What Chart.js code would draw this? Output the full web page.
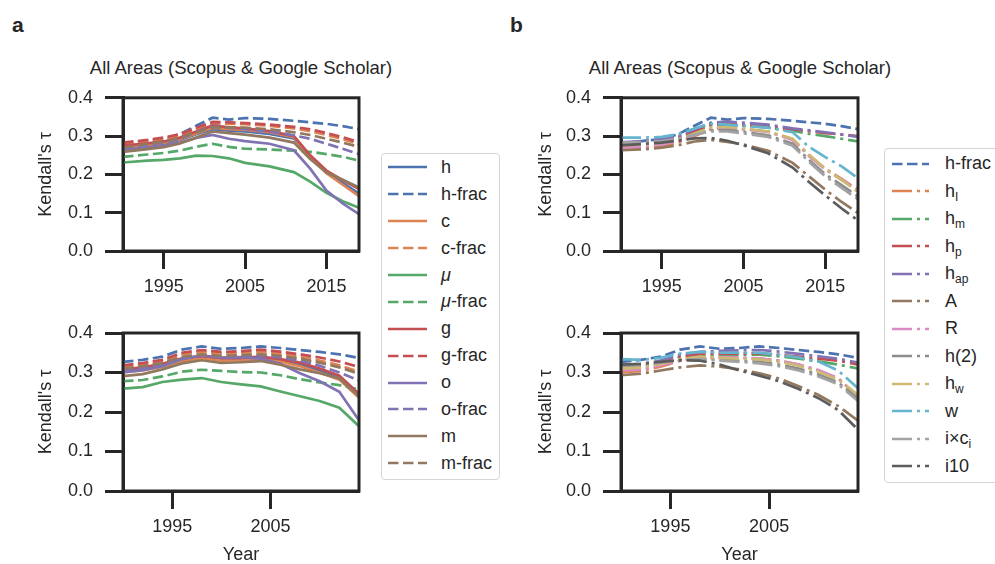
<!DOCTYPE html>
<html>
<head>
<meta charset="utf-8">
<script src="https://cdn.jsdelivr.net/npm/chart.js@4"></script>
<style>
  body { margin: 0; width: 995px; height: 564px; overflow: hidden; background: #fff; position: relative;
         font-family: "Liberation Sans", Arial, sans-serif; color: #262626; }
  .abs { position: absolute; }
  .letter { font-weight: bold; font-size: 21px; line-height: 1; }
  .title { font-size: 18.5px; line-height: 1; white-space: nowrap; transform: translate(-50%, -50%); }
  .legend { border: 1.5px solid #d6d6d6; border-radius: 4px; background: #fff; box-sizing: border-box; }
  .row { display: flex; align-items: center; font-size: 18px; white-space: nowrap; }
  .row svg { flex: none; }
  .row sub { font-size: 12px; line-height: 0; vertical-align: -4px; }
</style>
</head>
<body>
<div class="abs letter" style="left:12px;top:14px">a</div>
<div class="abs letter" style="left:510px;top:14px">b</div>
<div class="abs title" style="left:241px;top:68px">All Areas (Scopus &amp; Google Scholar)</div>
<div class="abs title" style="left:740px;top:68px">All Areas (Scopus &amp; Google Scholar)</div>

<canvas id="tl" class="abs" width="375" height="230" style="left:0;top:75px"></canvas>
<canvas id="bl" class="abs" width="375" height="256" style="left:0;top:310px"></canvas>
<canvas id="tr" class="abs" width="375" height="230" style="left:500px;top:75px"></canvas>
<canvas id="br" class="abs" width="375" height="256" style="left:500px;top:310px"></canvas>

<div id="legA" class="abs legend" style="left:381px;top:153px;width:119px;height:327px"></div>
<div id="legB" class="abs legend" style="left:884px;top:148px;width:130px;height:335px"></div>

<script>
// years sampled from the curves
const yearsTop = [1990, 1993, 1995, 1997, 1999, 2001, 2003, 2005, 2008, 2011, 2013, 2015, 2017, 2019]
const yearsBottom = [1990, 1992, 1994, 1996, 1998, 2000, 2002, 2004, 2006, 2008, 2010, 2012, 2014]
const tickYearsTop = [1995, 2005, 2015]
const tickYearsBottom = [1995, 2005]
const yTicks = [0, 0.1, 0.2, 0.3, 0.4]

// panel a, top
const tlH      = [0.268, 0.275, 0.280, 0.290, 0.305, 0.318, 0.314, 0.312, 0.306, 0.294, 0.245, 0.205, 0.178, 0.150]
const tlHFrac  = [0.280, 0.288, 0.292, 0.305, 0.327, 0.348, 0.343, 0.347, 0.345, 0.340, 0.336, 0.332, 0.326, 0.318]
const tlC      = [0.270, 0.277, 0.282, 0.292, 0.307, 0.322, 0.318, 0.316, 0.310, 0.297, 0.245, 0.203, 0.173, 0.143]
const tlCFrac  = [0.278, 0.285, 0.290, 0.300, 0.318, 0.333, 0.332, 0.331, 0.327, 0.320, 0.313, 0.303, 0.292, 0.279]
const tlMu     = [0.231, 0.236, 0.238, 0.242, 0.249, 0.248, 0.242, 0.230, 0.221, 0.206, 0.181, 0.152, 0.130, 0.113]
const tlMuFrac = [0.246, 0.252, 0.256, 0.262, 0.272, 0.280, 0.272, 0.267, 0.265, 0.262, 0.259, 0.253, 0.246, 0.236]
const tlG      = [0.275, 0.281, 0.286, 0.296, 0.312, 0.328, 0.323, 0.320, 0.313, 0.300, 0.250, 0.210, 0.185, 0.162]
const tlGFrac  = [0.283, 0.290, 0.296, 0.305, 0.322, 0.337, 0.336, 0.334, 0.330, 0.324, 0.318, 0.308, 0.297, 0.284]
const tlO      = [0.263, 0.270, 0.275, 0.283, 0.295, 0.303, 0.293, 0.287, 0.280, 0.263, 0.215, 0.158, 0.124, 0.096]
const tlOFrac  = [0.268, 0.278, 0.283, 0.293, 0.310, 0.325, 0.322, 0.318, 0.312, 0.302, 0.293, 0.280, 0.267, 0.253]
const tlM      = [0.259, 0.266, 0.271, 0.281, 0.296, 0.312, 0.308, 0.304, 0.296, 0.283, 0.240, 0.205, 0.186, 0.166]
const tlMFrac  = [0.270, 0.280, 0.285, 0.295, 0.310, 0.323, 0.323, 0.322, 0.318, 0.310, 0.303, 0.293, 0.283, 0.272]

// panel a, bottom
const blH      = [0.303, 0.308, 0.318, 0.332, 0.338, 0.333, 0.333, 0.336, 0.330, 0.320, 0.305, 0.285, 0.245]
const blHFrac  = [0.327, 0.332, 0.340, 0.358, 0.366, 0.360, 0.362, 0.366, 0.362, 0.357, 0.352, 0.346, 0.337]
const blC      = [0.300, 0.305, 0.315, 0.329, 0.336, 0.330, 0.331, 0.334, 0.328, 0.316, 0.300, 0.282, 0.236]
const blCFrac  = [0.314, 0.320, 0.328, 0.346, 0.352, 0.348, 0.350, 0.352, 0.348, 0.340, 0.330, 0.318, 0.302]
const blMu     = [0.259, 0.263, 0.276, 0.282, 0.286, 0.276, 0.270, 0.265, 0.252, 0.240, 0.228, 0.211, 0.164]
const blMuFrac = [0.278, 0.281, 0.290, 0.302, 0.307, 0.304, 0.301, 0.300, 0.293, 0.283, 0.275, 0.268, 0.257]
const blG      = [0.308, 0.313, 0.322, 0.336, 0.342, 0.337, 0.337, 0.340, 0.334, 0.325, 0.310, 0.292, 0.246]
const blGFrac  = [0.318, 0.324, 0.332, 0.350, 0.357, 0.352, 0.354, 0.358, 0.353, 0.346, 0.338, 0.328, 0.314]
const blO      = [0.301, 0.306, 0.316, 0.334, 0.343, 0.338, 0.339, 0.335, 0.322, 0.298, 0.278, 0.251, 0.179]
const blOFrac  = [0.305, 0.311, 0.320, 0.336, 0.343, 0.338, 0.340, 0.343, 0.338, 0.330, 0.317, 0.300, 0.280]
const blM      = [0.291, 0.296, 0.308, 0.323, 0.331, 0.324, 0.326, 0.329, 0.320, 0.308, 0.298, 0.285, 0.240]
const blMFrac  = [0.310, 0.316, 0.324, 0.340, 0.346, 0.342, 0.344, 0.346, 0.342, 0.335, 0.325, 0.313, 0.297]

// panel b, top (h-frac is the same series as panel a)
const trHI  = [0.266, 0.270, 0.274, 0.283, 0.300, 0.318, 0.322, 0.318, 0.312, 0.292, 0.250, 0.215, 0.188, 0.160]
const trHM  = [0.278, 0.282, 0.287, 0.295, 0.312, 0.328, 0.330, 0.327, 0.322, 0.314, 0.306, 0.300, 0.293, 0.286]
const trHP  = [0.280, 0.284, 0.288, 0.297, 0.314, 0.330, 0.333, 0.330, 0.325, 0.318, 0.313, 0.308, 0.304, 0.300]
const trHAp = [0.284, 0.288, 0.292, 0.300, 0.318, 0.335, 0.338, 0.335, 0.330, 0.320, 0.315, 0.310, 0.304, 0.298]
const trA   = [0.263, 0.266, 0.270, 0.276, 0.286, 0.290, 0.285, 0.278, 0.262, 0.230, 0.195, 0.160, 0.128, 0.099]
const trR   = [0.270, 0.274, 0.278, 0.287, 0.303, 0.320, 0.322, 0.318, 0.311, 0.290, 0.248, 0.213, 0.186, 0.158]
const trH2  = [0.280, 0.282, 0.285, 0.292, 0.305, 0.315, 0.316, 0.311, 0.302, 0.280, 0.238, 0.200, 0.172, 0.142]
const trHW  = [0.275, 0.279, 0.283, 0.291, 0.307, 0.322, 0.324, 0.320, 0.312, 0.293, 0.252, 0.215, 0.185, 0.154]
const trW   = [0.296, 0.296, 0.298, 0.305, 0.320, 0.332, 0.330, 0.327, 0.322, 0.310, 0.272, 0.245, 0.221, 0.190]
const trIC  = [0.283, 0.285, 0.287, 0.293, 0.304, 0.312, 0.312, 0.307, 0.298, 0.275, 0.233, 0.195, 0.165, 0.135]
const trI10 = [0.276, 0.280, 0.283, 0.288, 0.294, 0.295, 0.288, 0.276, 0.255, 0.218, 0.180, 0.145, 0.111, 0.080]

// panel b, bottom
const brHI  = [0.300, 0.304, 0.315, 0.330, 0.337, 0.337, 0.337, 0.335, 0.330, 0.320, 0.305, 0.285, 0.238]
const brHM  = [0.310, 0.314, 0.322, 0.338, 0.344, 0.345, 0.345, 0.345, 0.341, 0.335, 0.328, 0.320, 0.310]
const brHP  = [0.312, 0.316, 0.324, 0.340, 0.347, 0.348, 0.348, 0.349, 0.345, 0.340, 0.335, 0.330, 0.320]
const brHAp = [0.319, 0.322, 0.330, 0.345, 0.352, 0.355, 0.356, 0.357, 0.353, 0.347, 0.341, 0.335, 0.325]
const brA   = [0.293, 0.297, 0.305, 0.313, 0.318, 0.315, 0.308, 0.298, 0.285, 0.265, 0.243, 0.215, 0.178]
const brR   = [0.305, 0.308, 0.318, 0.332, 0.339, 0.339, 0.338, 0.336, 0.330, 0.320, 0.306, 0.285, 0.240]
const brH2  = [0.315, 0.318, 0.324, 0.333, 0.336, 0.332, 0.330, 0.327, 0.320, 0.310, 0.295, 0.275, 0.233]
const brHW  = [0.310, 0.313, 0.322, 0.334, 0.340, 0.337, 0.335, 0.333, 0.327, 0.317, 0.302, 0.282, 0.243]
const brW   = [0.334, 0.332, 0.337, 0.348, 0.352, 0.350, 0.350, 0.350, 0.345, 0.338, 0.328, 0.305, 0.260]
const brIC  = [0.318, 0.320, 0.325, 0.332, 0.334, 0.330, 0.327, 0.323, 0.316, 0.305, 0.290, 0.270, 0.228]
const brI10 = [0.320, 0.322, 0.327, 0.331, 0.330, 0.320, 0.305, 0.292, 0.278, 0.258, 0.235, 0.205, 0.155]

const labelsA = ['h', 'h-frac', 'c', 'c-frac', 'μ', 'μ-frac', 'g', 'g-frac', 'o', 'o-frac', 'm', 'm-frac']
const legendA = ['h', 'h-frac', 'c', 'c-frac', '<i>μ</i>', '<i>μ</i>-frac', 'g', 'g-frac', 'o', 'o-frac', 'm', 'm-frac']
const labelsB = ['h-frac', 'hI', 'hm', 'hp', 'hap', 'A', 'R', 'h(2)', 'hw', 'w', 'i×ci', 'i10']
const legendB = ['h-frac', 'h<sub>I</sub>', 'h<sub>m</sub>', 'h<sub>p</sub>', 'h<sub>ap</sub>', 'A', 'R', 'h(2)',
                 'h<sub>w</sub>', 'w', 'i×c<sub>i</sub>', 'i10']

const ink = '#262626'
const solid = []
const dashed = [10.5, 4.5]
const dashdot = [20, 5, 3, 5]

const colorsA = ['#4C72B0', '#4C72B0', '#DD8452', '#DD8452', '#55A868', '#55A868',
                 '#C44E52', '#C44E52', '#8172B3', '#8172B3', '#937860', '#937860']
const dashesA = [solid, dashed, solid, dashed, solid, dashed, solid, dashed, solid, dashed, solid, dashed]
const colorsB = ['#4C72B0', '#DD8452', '#55A868', '#C44E52', '#8172B3', '#937860',
                 '#DA8BC3', '#8C8C8C', '#CCB974', '#64B5CD', '#A3A3A3', '#5C5C5C']
const dashesB = [dashed].concat(Array(11).fill(dashdot))

Chart.defaults.font.family = '"Liberation Sans", Arial, sans-serif'
Chart.defaults.font.size = 18
Chart.defaults.color = ink

// matplotlib style full box around the axes
const frame = {
  id: 'frame',
  afterDraw(chart) {
    const {ctx, chartArea: a} = chart
    ctx.save()
    ctx.strokeStyle = ink
    ctx.lineWidth = 3
    ctx.strokeRect(a.left, a.top, a.right - a.left, a.bottom - a.top)
    ctx.restore()
  }
}

const makePanel = (id, years, tickYears, seriesList, labels, colors, dashes, opt) =>
{
  const n = seriesList.length
  const datasets = seriesList.map((vals, i) => ({
    label: labels[i],
    data: years.map((yr, j) => ({x: yr, y: vals[j]})),
    borderColor: colors[i],
    borderDash: dashes[i],
    borderWidth: 2.7,
    borderCapStyle: 'butt',
    pointRadius: 0,
    tension: 0,
    fill: false,
    order: n - i
  }))
  const axisLines = {drawOnChartArea: false, drawTicks: true, tickLength: 18, tickWidth: 3, tickColor: ink}
  new Chart(document.getElementById(id), {
    type: 'line',
    data: {datasets},
    options: {
      responsive: false,
      animation: false,
      events: [],
      layout: {padding: opt.pad},
      plugins: {legend: {display: false}, tooltip: {enabled: false}},
      scales: {
        x: {
          type: 'linear',
          min: years[0],
          max: years[years.length - 1],
          afterBuildTicks: s => { s.ticks = tickYears.map(v => ({value: v})) },
          afterFit: s => { s.height = opt.xH },
          ticks: {padding: 7, maxRotation: 0, autoSkip: false, callback: v => String(v)},
          grid: axisLines,
          border: {color: ink, width: 3},
          title: {display: opt.xTitle, text: 'Year', padding: {top: 0, bottom: 0}}
        },
        y: {
          min: 0,
          max: 0.4,
          afterBuildTicks: s => { s.ticks = yTicks.map(v => ({value: v})) },
          afterFit: s => { s.width = opt.yW },
          ticks: {padding: 12, callback: v => v.toFixed(1)},
          grid: axisLines,
          border: {color: ink, width: 3},
          title: {display: true, text: "Kendall's τ", padding: {top: 35, bottom: 0}}
        }
      }
    },
    plugins: [frame]
  })
}

makePanel('tl', yearsTop, tickYearsTop,
  [tlH, tlHFrac, tlC, tlCFrac, tlMu, tlMuFrac, tlG, tlGFrac, tlO, tlOFrac, tlM, tlMFrac],
  labelsA, colorsA, dashesA, {pad: {left: 0, top: 18, right: 16, bottom: 0}, xH: 54, yW: 123, xTitle: false})
makePanel('bl', yearsBottom, tickYearsBottom,
  [blH, blHFrac, blC, blCFrac, blMu, blMuFrac, blG, blGFrac, blO, blOFrac, blM, blMFrac],
  labelsA, colorsA, dashesA, {pad: {left: 0, top: 23, right: 16, bottom: 0}, xH: 75, yW: 123, xTitle: true})
makePanel('tr', yearsTop, tickYearsTop,
  [tlHFrac, trHI, trHM, trHP, trHAp, trA, trR, trH2, trHW, trW, trIC, trI10],
  labelsB, colorsB, dashesB, {pad: {left: 0, top: 18, right: 17, bottom: 0}, xH: 54, yW: 121, xTitle: false})
makePanel('br', yearsBottom, tickYearsBottom,
  [blHFrac, brHI, brHM, brHP, brHAp, brA, brR, brH2, brHW, brW, brIC, brI10],
  labelsB, colorsB, dashesB, {pad: {left: 0, top: 23, right: 17, bottom: 0}, xH: 75, yW: 121, xTitle: true})

// legends with sub/italic text
const makeLegend = (id, texts, colors, dashes, rowH, padTop, lineX, lineW, textX) =>
{
  const box = document.getElementById(id)
  box.style.paddingTop = padTop + 'px'
  texts.forEach((t, i) =>
  {
    const row = document.createElement('div')
    row.className = 'row'
    row.style.height = rowH + 'px'
    row.style.paddingLeft = lineX + 'px'
    const dash = dashes[i].length ? `stroke-dasharray="${dashes[i].join(' ')}"` : ''
    row.innerHTML =
      `<svg width="${lineW}" height="6"><line x1="0" y1="3" x2="${lineW}" y2="3" stroke="${colors[i]}" stroke-width="2.7" ${dash}/></svg>` +
      `<span style="margin-left:${textX - lineX - lineW}px">${t}</span>`
    box.appendChild(row)
  })
}

makeLegend('legA', legendA, colorsA, dashesA, 26.9, 0, 6, 39, 59)
makeLegend('legB', legendB, colorsB, dashesB, 27.5, 1, 7, 37, 60)
</script>
</body>
</html>
